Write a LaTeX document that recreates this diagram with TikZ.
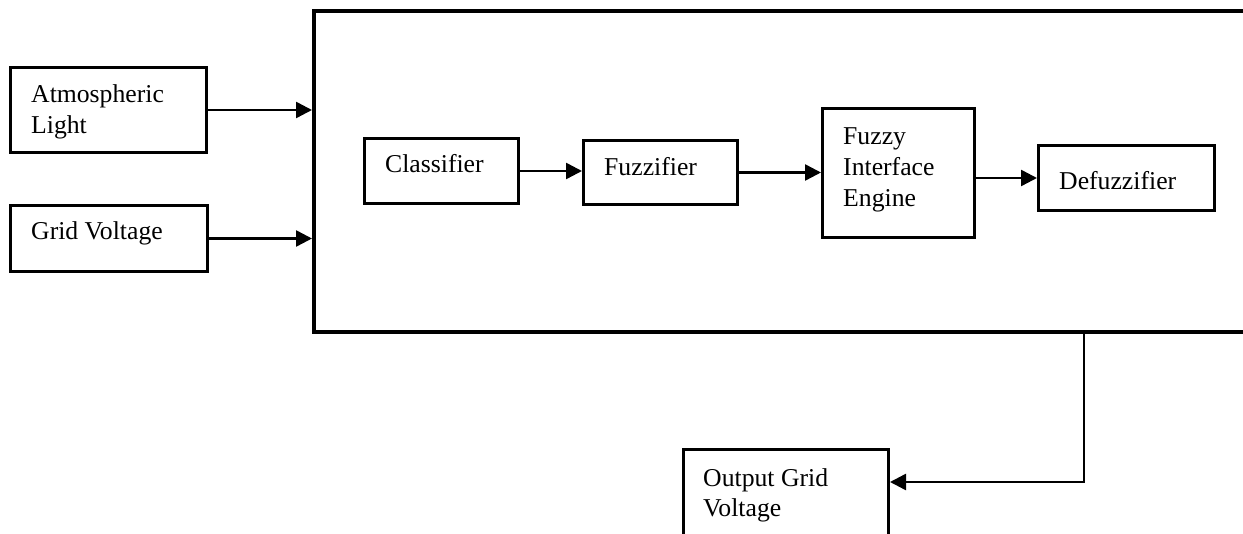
\documentclass[tikz,border=0pt]{standalone}
\usepackage{fontspec}
\setmainfont{Liberation Serif}
\usetikzlibrary{arrows.meta}
\begin{document}
\begin{tikzpicture}[x=1pt,y=-1pt,
  blk/.style={draw=black,line width=3pt,inner sep=0pt,anchor=north west},
  bigblk/.style={draw=black,line width=4pt,inner sep=0pt,anchor=north west},
  lbl/.style={anchor=base west,inner sep=0pt,align=left,font=\fontsize{25.7pt}{31pt}\selectfont},
  arr/.style={line width=2.5pt,-{Triangle[length=16pt,width=16pt]}}]
\useasboundingbox (0,0) rectangle (1243,534);
\clip (0,0) rectangle (1243,534);
% outer box
\node[bigblk,minimum width=960pt,minimum height=321pt] (big) at (312,9) {};
% input boxes
\node[blk,minimum width=196pt,minimum height=85pt] (atm) at (9,66) {};
\node[lbl] (atmt) at ([shift={(22pt,-68pt)}]atm.north west) {Atmospheric\\Light};
\node[blk,minimum width=197pt,minimum height=66pt] (grid) at (9,204) {};
\node[lbl] (gridt) at ([shift={(22pt,-36pt)}]grid.north west) {Grid Voltage};
% inner boxes
\node[blk,minimum width=154pt,minimum height=65pt] (cls) at (363,137) {};
\node[lbl] (clst) at ([shift={(22pt,-36pt)}]cls.north west) {Classifier};
\node[blk,minimum width=154pt,minimum height=64pt] (fuz) at (582,139) {};
\node[lbl] (fuzt) at ([shift={(22pt,-37pt)}]fuz.north west) {Fuzzifier};
\node[blk,minimum width=152pt,minimum height=129pt] (fie) at (821,107) {};
\node[lbl] (fiet) at ([shift={(22pt,-100pt)}]fie.north west) {Fuzzy\\Interface\\Engine};
\node[blk,minimum width=176pt,minimum height=65pt] (def) at (1037,144) {};
\node[lbl] (deft) at ([shift={(22pt,-46pt)}]def.north west) {Defuzzifier};
% output box
\node[blk,minimum width=205pt,minimum height=100pt] (out) at (682,448) {};
\node[lbl] (outt) at ([shift={(21pt,-69pt)}]out.north west) {Output Grid\\Voltage};
% connectors
\draw[arr] (atm.east) -- (atm.east -| big.west);
\draw[arr] (grid.east) -- (grid.east -| big.west);
\draw[arr] (cls.east) -- (cls.east -| fuz.west);
\draw[arr] (fuz.east) -- (fuz.east -| fie.west);
\draw[arr] (def.west -| fie.east) -- (def.west);
\coordinate (tap) at ([xshift=290pt]big.south);
\draw[arr] (tap) |- ([yshift=-34pt]out.north east);
\end{tikzpicture}
\end{document}
